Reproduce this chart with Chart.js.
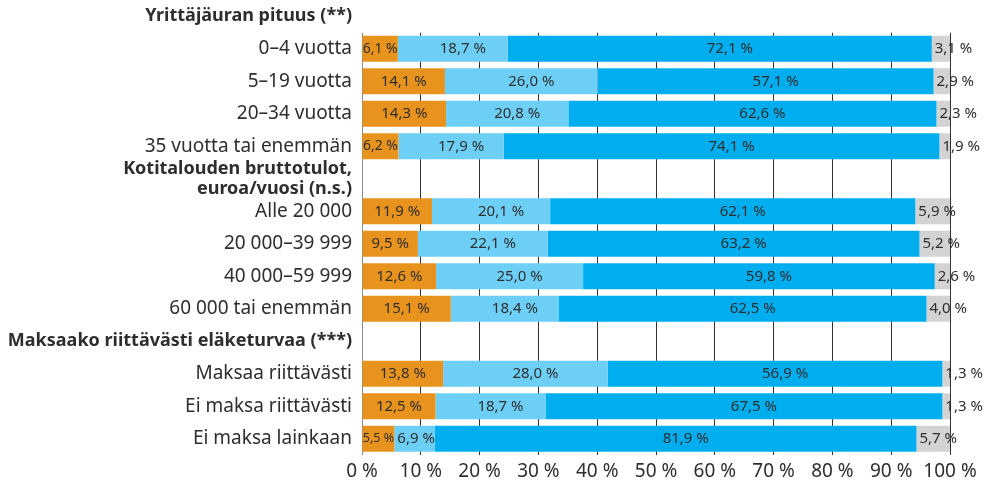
<!DOCTYPE html>
<html>
<head>
<meta charset="utf-8">
<script src="https://cdn.jsdelivr.net/npm/chart.js@4/dist/chart.umd.min.js"></script>
<style>
  html, body { margin: 0; padding: 0; background: #fff; }
  #wrap { width: 1000px; height: 488px; position: relative; }
</style>
</head>
<body>
<div id="wrap"><canvas id="c"></canvas></div>
<script>
// group headers (bold rows without bars)
const groupHeaders = [
  'Yrittäjäuran pituus (**)',
  ['Kotitalouden bruttotulot,', 'euroa/vuosi (n.s.)'],
  'Maksaako riittävästi eläketurvaa (***)'
];
const careerRows = ['0–4 vuotta', '5–19 vuotta', '20–34 vuotta', '35 vuotta tai enemmän'];
const incomeRows = ['Alle 20 000', '20 000–39 999', '40 000–59 999', '60 000 tai enemmän'];
const pensionRows = ['Maksaa riittävästi', 'Ei maksa riittävästi', 'Ei maksa lainkaan'];

// series values, one per bar row, top to bottom
const orangeValues = [6.1, 14.1, 14.3, 6.2, 11.9, 9.5, 12.6, 15.1, 13.8, 12.5, 5.5];
const lightBlueValues = [18.7, 26.0, 20.8, 17.9, 20.1, 22.1, 25.0, 18.4, 28.0, 18.7, 6.9];
const blueValues = [72.1, 57.1, 62.6, 74.1, 62.1, 63.2, 59.8, 62.5, 56.9, 67.5, 81.9];
const greyValues = [3.1, 2.9, 2.3, 1.9, 5.9, 5.2, 2.6, 4.0, 1.3, 1.3, 5.7];

const xTicks = [0, 10, 20, 30, 40, 50, 60, 70, 80, 90, 100];

const rowGroups = [careerRows, incomeRows, pensionRows];
const labels = [];
const headerIdx = [];
rowGroups.forEach((rows, g) => {
  headerIdx.push(labels.length);
  labels.push(groupHeaders[g]);
  rows.forEach(r => labels.push(r));
});

function expand(values) {
  const out = [];
  let k = 0;
  rowGroups.forEach(rows => {
    out.push(null);
    rows.forEach(() => out.push(values[k++]));
  });
  return out;
}

const FONT = 'Noto Sans';
const TXT = '#2e2e2e';
const fmt = v => v.toFixed(1).replace('.', ',') + ' %';

// hide the grid above the first bar row (header area)
const topClear = {
  id: 'topClear',
  beforeDatasetsDraw(chart) {
    const { ctx, chartArea } = chart;
    const y = chart.scales.y.getPixelForValue(1) - 16;
    ctx.save();
    ctx.fillStyle = '#fff';
    ctx.fillRect(chartArea.left - 2, 0, chartArea.width + 4, y);
    ctx.restore();
  }
};

const barLabels = {
  id: 'barLabels',
  afterDatasetsDraw(chart) {
    const ctx = chart.ctx;
    ctx.save();
    ctx.fillStyle = TXT;
    ctx.textBaseline = 'middle';
    chart.data.datasets.forEach((ds, di) => {
      const meta = chart.getDatasetMeta(di);
      meta.data.forEach((el, i) => {
        const v = ds.data[i];
        if (v == null) return;
        const txt = fmt(v);
        const left = Math.min(el.x, el.base);
        const w = Math.abs(el.x - el.base);
        let size = 15;
        ctx.font = size + 'px "' + FONT + '"';
        let tw = ctx.measureText(txt).width;
        if (di !== 3) {
          while (tw > w && size > 12) {
            size -= 0.5;
            ctx.font = size + 'px "' + FONT + '"';
            tw = ctx.measureText(txt).width;
          }
        }
        if (di === 3) {
          ctx.textAlign = 'left';
          ctx.fillText(txt, left + 3, el.y);
        } else {
          let off = 0;
          if (di > 0) off = Math.max(0, Math.min(10, (w - tw) / 2));
          ctx.textAlign = 'center';
          ctx.fillText(txt, left + w / 2 + off, el.y);
        }
      });
    });
    ctx.restore();
  }
};

new Chart(document.getElementById('c'), {
  type: 'bar',
  data: {
    labels: labels,
    datasets: [
      { label: 'Sarja 1', data: expand(orangeValues), backgroundColor: '#e8931e' },
      { label: 'Sarja 2', data: expand(lightBlueValues), backgroundColor: '#6dcff6' },
      { label: 'Sarja 3', data: expand(blueValues), backgroundColor: '#00aeef' },
      { label: 'Sarja 4', data: expand(greyValues), backgroundColor: '#d3d3d3' }
    ]
  },
  options: {
    indexAxis: 'y',
    responsive: true,
    maintainAspectRatio: false,
    animation: false,
    layout: { padding: { left: 0, right: 50, top: 0, bottom: 0 } },
    datasets: { bar: { barPercentage: 0.8, categoryPercentage: 1, borderWidth: 0 } },
    plugins: { legend: { display: false }, tooltip: { enabled: false } },
    scales: {
      x: {
        stacked: true,
        min: 0,
        max: 100,
        afterBuildTicks: s => { s.ticks = xTicks.map(v => ({ value: v })); },
        afterFit: s => { s.height = 33; },
        grid: {
          drawTicks: false,
          color: ctx => ctx.index === 0 ? '#8a8a8a' : '#333',
          lineWidth: 1
        },
        border: { display: false },
        ticks: {
          padding: 5,
          color: TXT,
          autoSkip: false,
          maxRotation: 0,
          minRotation: 0,
          font: { family: FONT, size: 19 },
          callback: v => v + ' %'
        }
      },
      y: {
        stacked: true,
        afterFit: s => { s.width = 362; s.paddingTop = 0; s.paddingBottom = 0; },
        grid: { display: false, drawTicks: false },
        border: { display: false },
        ticks: {
          autoSkip: false,
          padding: 10,
          color: TXT,
          font: ctx => headerIdx.includes(ctx.index)
            ? { family: FONT, size: 18, weight: 'bold', lineHeight: 1.1 }
            : { family: FONT, size: 19, weight: 'normal', lineHeight: 1.1 }
        }
      }
    }
  },
  plugins: [topClear, barLabels]
});
</script>
</body>
</html>
